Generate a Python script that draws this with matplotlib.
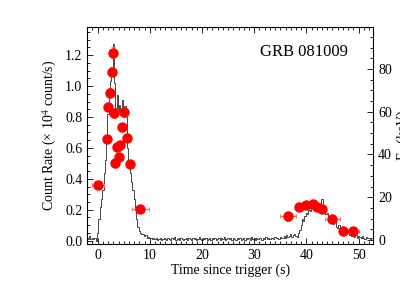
import matplotlib
matplotlib.use("Agg")
import matplotlib.pyplot as plt
from matplotlib.ticker import MultipleLocator
import numpy as np

plt.rcParams['font.family'] = ['Liberation Serif', 'DejaVu Serif']
plt.rcParams['mathtext.fontset'] = 'stix'

# light curve, 0.25 s bins starting at -2 s (units of 1e4 count/s)
t_start = -2.0
t_bin = 0.25
rate = [
    0.02, 0.01, 0.03, 0.01, 0.02, 0.01, 0.02, 0.00, 0.05, 0.14, 0.22, 0.27, 0.33, 0.44, 0.52, 0.66, 0.82, 0.98, 1.03, 1.08,
    1.27, 1.02, 0.86, 0.94, 0.84, 0.88, 0.82, 0.91, 0.85, 0.87, 0.80, 0.60, 0.50, 0.44, 0.38, 0.33, 0.27, 0.20, 0.14, 0.09,
    0.06, 0.05, 0.04, 0.045, 0.03, 0.035, 0.02, 0.025, 0.02, 0.015, 0.01, 0.02, 0.01, 0.015, 0.005, 0.01, 0.02, 0.005, 0.01, 0.015,
    0.01, 0.005, 0.02, 0.01, 0.005, 0.015, 0.01, 0.025, 0.005, 0.01, 0.015, 0.005, 0.02, 0.01, 0.005, 0.01, 0.015, 0.005, 0.02, 0.01,
    0.005, 0.015, 0.01, 0.02, 0.005, 0.01, 0.025, 0.01, 0.005, 0.015, 0.01, 0.02, 0.005, 0.01, 0.015, 0.005, 0.02, 0.01, 0.015, 0.005,
    0.01, 0.02, 0.005, 0.015, 0.01, 0.025, 0.005, 0.01, 0.015, 0.01, 0.02, 0.005, 0.015, 0.01, 0.005, 0.02, 0.01, 0.015, 0.005, 0.01,
    0.015, 0.005, 0.02, 0.01, 0.015, 0.005, 0.025, 0.01, 0.015, 0.005, 0.02, 0.01, 0.015, 0.02, 0.005, 0.015, 0.01, 0.025, 0.01, 0.015,
    0.01, 0.02, 0.015, 0.01, 0.025, 0.015, 0.02, 0.01, 0.025, 0.015, 0.02, 0.03, 0.02, 0.035, 0.025, 0.03, 0.04, 0.025, 0.035, 0.045,
    0.03, 0.025, 0.05, 0.07, 0.10, 0.14, 0.13, 0.16, 0.18, 0.17, 0.20, 0.19, 0.22, 0.21, 0.20, 0.23, 0.21, 0.24, 0.22, 0.20,
    0.27, 0.19, 0.20, 0.17, 0.18, 0.15, 0.16, 0.13, 0.14, 0.11, 0.12, 0.09, 0.08, 0.10, 0.07, 0.06, 0.07, 0.05, 0.06, 0.04,
    0.05, 0.035, 0.04, 0.03, 0.045, 0.025, 0.035, 0.02, 0.03, 0.025, 0.015, 0.03, 0.02, 0.01, 0.025, 0.015, 0.02, 0.01, 0.015, 0.02,
]

# peak energy points
ep_time = [0.1, 1.7, 2.03, 2.36, 2.68, 2.87, 3.1, 3.3, 3.7, 4.0, 4.3, 4.7, 5.1, 5.55, 6.25, 8.2,
           36.5, 38.6, 40.0, 41.2, 42.1, 43.0, 45.0, 47.1, 49.0]
ep_time_err = [1.1, 0.15, 0.15, 0.15, 0.15, 0.2, 0.2, 0.2, 0.2, 0.2, 0.2, 0.2, 0.2, 0.2, 0.3, 1.6,
               1.5, 0.5, 0.5, 0.5, 0.5, 0.5, 1.4, 0.6, 1.0]
ep = [25.6, 47.4, 62.1, 68.9, 78.8, 87.7, 59.2, 35.9, 43.5, 38.9, 44.5, 52.9, 59.7, 47.9, 35.7, 14.5,
      11.0, 15.5, 16.3, 16.7, 15.2, 14.7, 10.0, 4.1, 4.1]
ep_err = [1.5, 1.5, 2.0, 2.0, 2.0, 2.5, 2.0, 1.5, 1.5, 1.5, 1.5, 1.5, 2.0, 1.5, 1.5, 1.0,
          2.0, 1.5, 1.0, 1.0, 1.0, 1.0, 1.0, 1.0, 1.0]

t = t_start + t_bin * np.arange(len(rate))

fig = plt.figure(figsize=(4, 3), dpi=100)
ax = fig.add_axes([0.218, 0.186, 0.715, 0.723])
ax.plot(t, rate, color='black', lw=0.5, drawstyle='steps-mid')
ax.set_xlim(-2, 52.8)
ax.set_ylim(-0.023, 1.38)
ax.set_xlabel("Time since trigger (s)", fontsize=10, labelpad=1)
ax.set_ylabel("Count Rate (× 10$^4$ count/s)", fontsize=10, labelpad=4)
ax.xaxis.set_major_locator(MultipleLocator(10))
ax.xaxis.set_minor_locator(MultipleLocator(1))
ax.yaxis.set_major_locator(MultipleLocator(0.2))
ax.yaxis.set_minor_locator(MultipleLocator(0.05))
ax.yaxis.set_major_formatter(plt.FormatStrFormatter('%.1f'))
ax.tick_params(which='both', direction='in', top=True, right=False, labelsize=10, width=0.6)
ax.tick_params(which='major', length=4)
ax.tick_params(which='minor', length=2)
for s in ax.spines.values():
    s.set_linewidth(0.6)

ax2 = ax.twinx()
ax2.errorbar(ep_time, ep, xerr=ep_time_err, yerr=ep_err, fmt='o', color='red',
             ms=6.5, ecolor='#ff6a6a', elinewidth=0.8, capsize=1.5, capthick=0.8)
ax2.set_ylim(-2, 99.5)
ax2.yaxis.set_major_locator(MultipleLocator(20))
ax2.yaxis.set_minor_locator(MultipleLocator(5))
ax2.tick_params(which='both', direction='in', labelsize=10, width=0.6)
ax2.tick_params(which='major', length=4)
ax2.tick_params(which='minor', length=2)
# label sits partly past the right edge, as in the original figure
ax2.set_ylabel("E$_{\\rm p}$ (keV)", fontsize=10, labelpad=2)

ax.text(0.91, 0.885, "GRB 081009", transform=ax.transAxes, ha='right', va='center', fontsize=12)

fig.savefig("out.png", dpi=100)
